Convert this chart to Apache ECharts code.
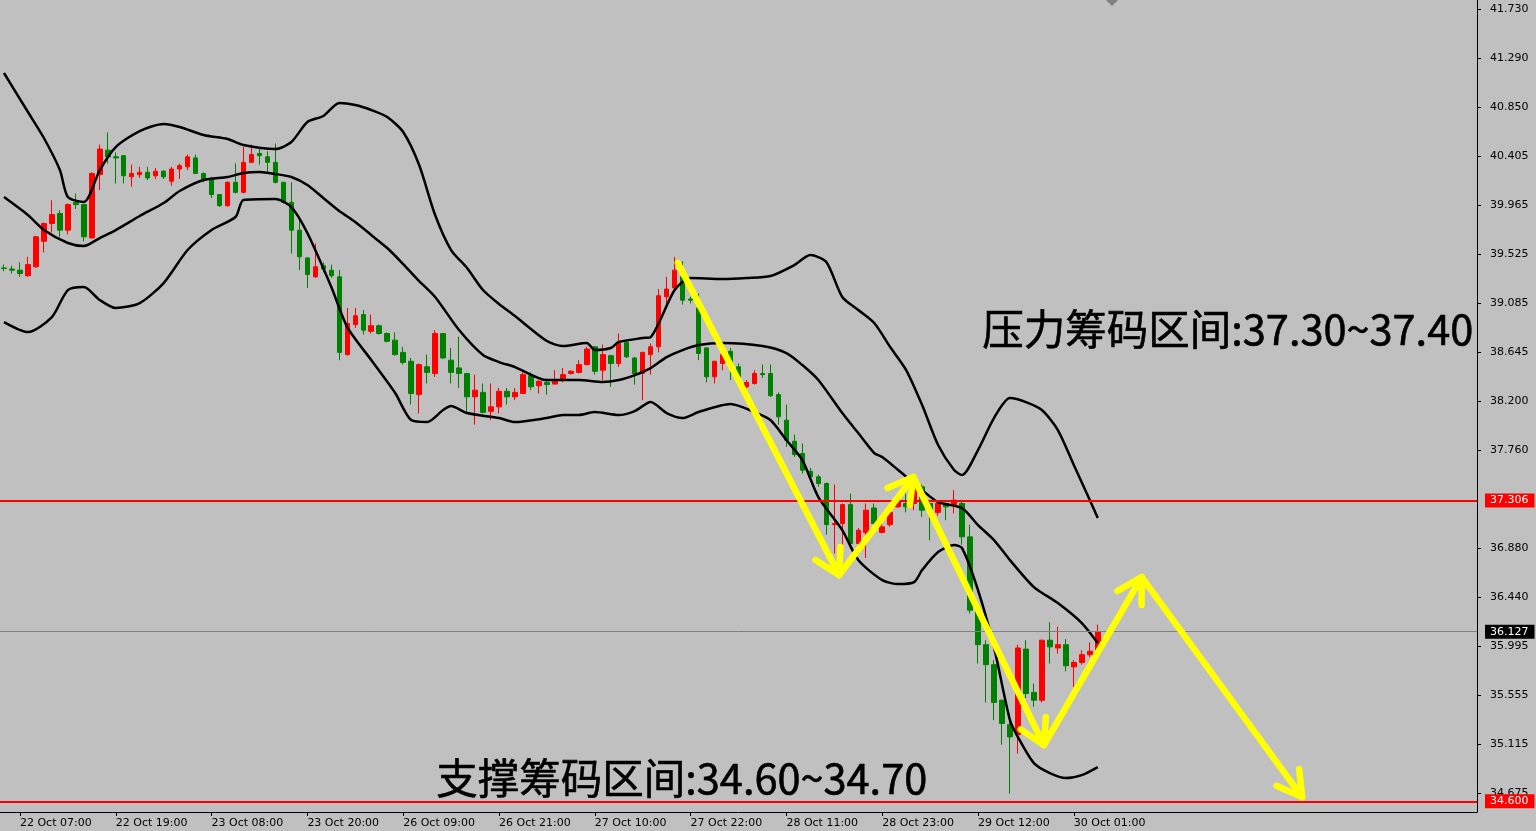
<!DOCTYPE html>
<html>
<head>
<meta charset="utf-8">
<script src="https://cdn.jsdelivr.net/npm/echarts@6/dist/echarts.min.js"></script>
<style>
html,body{margin:0;padding:0;background:#c0c0c0;}
#chart{width:1536px;height:831px;}
</style>
</head>
<body>
<div id="chart"></div>
<script>
// ---- DATA ----
const slotCount = 185; // hourly slots incl. empty future space
const xLabelIndex = [2, 14, 26, 38, 50, 62, 74, 86, 98, 110, 122, 134];
const xLabelText = ['22 Oct 07:00','22 Oct 19:00','23 Oct 08:00','23 Oct 20:00','26 Oct 09:00','26 Oct 21:00',
  '27 Oct 10:00','27 Oct 22:00','28 Oct 11:00','28 Oct 23:00','29 Oct 12:00','30 Oct 01:00'];
const yTicks = [41.730,41.290,40.850,40.405,39.965,39.525,39.085,38.645,38.200,37.760,36.880,36.440,35.995,35.555,35.115,34.675];

// candles: [open, close, low, high]
const candles = [
[39.40,39.395,39.37,39.43],[39.39,39.38,39.35,39.42],[39.38,39.35,39.32,39.45],[39.33,39.43,39.32,39.50],
[39.41,39.68,39.40,39.69],[39.64,39.80,39.54,39.81],[39.80,39.88,39.72,40.01],[39.89,39.74,39.68,39.92],
[39.74,39.97,39.70,39.98],[39.99,39.97,39.93,40.07],[39.97,39.68,39.64,39.975],[39.67,40.25,39.665,40.26],
[40.24,40.47,40.10,40.51],[40.46,40.40,40.34,40.62],[40.40,40.39,40.16,40.44],[40.41,40.23,40.16,40.415],
[40.22,40.25,40.13,40.33],[40.24,40.26,40.21,40.31],[40.26,40.21,40.19,40.31],[40.23,40.27,40.20,40.30],
[40.27,40.22,40.20,40.28],[40.18,40.29,40.14,40.31],[40.29,40.32,40.20,40.34],[40.31,40.40,40.28,40.42],
[40.39,40.25,40.245,40.42],[40.25,40.19,40.17,40.26],[40.20,40.06,40.03,40.22],[40.06,39.96,39.95,40.065],
[39.96,40.17,39.95,40.18],[40.17,40.08,40.07,40.34],[40.08,40.35,40.07,40.49],[40.35,40.42,40.345,40.51],
[40.43,40.41,40.33,40.48],[40.40,40.35,40.26,40.45],[40.35,40.17,40.16,40.52],[40.17,39.99,39.98,40.175],
[39.99,39.74,39.53,40.17],[39.74,39.50,39.38,39.85],[39.49,39.34,39.22,39.495],[39.32,39.41,39.31,39.62],
[39.42,39.39,39.36,39.45],[39.38,39.33,39.31,39.43],[39.32,38.64,38.57,39.38],[38.62,38.90,38.61,39.04],
[38.89,38.97,38.86,39.04],[38.98,38.84,38.80,39.02],[38.83,38.88,38.81,38.98],[38.88,38.81,38.80,38.89],
[38.81,38.74,38.73,38.82],[38.75,38.62,38.61,38.82],[38.64,38.55,38.53,38.69],[38.56,38.27,38.17,38.59],
[38.26,38.53,38.09,38.54],[38.51,38.46,38.36,38.62],[38.45,38.81,38.42,38.84],[38.81,38.59,38.58,38.815],
[38.57,38.46,38.36,38.68],[38.50,38.45,38.32,38.78],[38.45,38.24,38.10,38.455],[38.24,38.30,37.99,38.44],
[38.28,38.10,38.09,38.36],[38.11,38.15,38.03,38.36],[38.15,38.29,38.09,38.32],[38.29,38.24,38.17,38.32],
[38.24,38.28,38.21,38.32],[38.27,38.44,38.265,38.46],[38.43,38.33,38.30,38.46],[38.34,38.38,38.27,38.39],
[38.37,38.35,38.26,38.39],[38.355,38.38,38.35,38.48],[38.39,38.44,38.37,38.50],[38.45,38.47,38.44,38.48],
[38.46,38.53,38.45,38.57],[38.53,38.67,38.525,38.69],[38.69,38.47,38.44,38.695],[38.48,38.62,38.39,38.71],
[38.61,38.54,38.33,38.62],[38.54,38.72,38.51,38.81],[38.73,38.60,38.59,38.75],[38.59,38.45,38.35,38.60],
[38.45,38.64,38.21,38.645],[38.62,38.69,38.44,38.72],[38.69,39.15,38.64,39.21],[39.14,39.21,39.07,39.32],
[39.22,39.38,39.21,39.50],[39.32,39.11,39.07,39.46],[39.12,39.11,39.08,39.14],[39.04,38.63,38.57,39.17],
[38.68,38.42,38.37,38.685],[38.42,38.56,38.36,38.565],[38.54,38.62,38.48,38.63],[38.65,38.55,38.39,38.68],
[38.51,38.42,38.33,38.54],[38.33,38.37,38.32,38.39],[38.36,38.45,38.35,38.48],[38.45,38.44,38.41,38.53],
[38.45,38.25,38.24,38.53],[38.26,38.06,37.99,38.28],[38.03,37.85,37.79,38.17],[37.84,37.72,37.70,37.90],
[37.73,37.58,37.55,37.82],[37.57,37.52,37.51,37.60],[37.52,37.46,37.43,37.54],[37.46,37.09,37.00,37.47],
[37.09,37.10,36.83,37.45],[37.10,37.27,36.86,37.28],[37.27,36.92,36.88,37.37],[36.92,37.04,36.86,37.06],
[37.02,37.22,36.79,37.28],[37.24,37.10,37.07,37.28],[37.02,37.07,37.01,37.10],[37.09,37.20,37.07,37.22],
[37.25,37.31,37.24,37.37],[37.28,37.25,37.20,37.37],[37.28,37.42,37.22,37.47],[37.43,37.22,37.16,37.45],
[37.28,37.22,36.95,37.29],[37.20,37.28,37.17,37.29],[37.28,37.25,37.13,37.29],[37.27,37.31,37.19,37.40],
[37.28,36.98,36.91,37.31],[36.98,36.32,36.29,37.09],[36.32,36.01,35.84,36.325],[36.01,35.83,35.49,36.05],
[35.83,35.49,35.33,35.87],[35.51,35.30,35.11,35.515],[35.29,35.18,34.67,35.39],[35.20,35.98,35.03,36.01],
[35.97,35.57,35.53,36.05],[35.58,35.51,35.45,35.66],[35.51,36.05,35.49,36.055],[36.05,35.99,35.84,36.21],
[35.98,36.01,35.93,36.17],[36.01,35.82,35.77,36.06],[35.81,35.85,35.63,35.87],[35.85,35.92,35.83,35.96],
[35.92,35.95,35.90,36.03],[35.96,36.127,35.94,36.19]
];

// Bollinger bands: [bar index, value]
const upperBand = [[0,41.154],[3,40.803],[5,40.569],[7,40.281],[8,40.038],[10,39.993],[12,40.281],[14,40.488],
[17,40.632],[20,40.695],[22,40.668],[25,40.596],[28,40.560],[30,40.506],[34,40.470],[36,40.533],[38,40.713],
[40,40.767],[42,40.884],[44,40.866],[46,40.821],[48,40.758],[50,40.623],[52,40.326],[54,39.876],[56,39.561],
[58,39.399],[60,39.201],[62,39.075],[64,38.967],[68,38.742],[70,38.697],[73,38.724],[74,38.661],[76,38.679],
[77,38.733],[80,38.769],[81,38.778],[84,39.201],[86,39.309],[90,39.300],[93,39.309],[96,39.327],[99,39.426],
[101,39.516],[103,39.453],[105,39.138],[107,39.021],[109,38.904],[111,38.688],[113,38.481],[115,38.166],
[117,37.806],[119,37.581],[120,37.536],[122,37.761],[124,38.049],[126,38.229],[128,38.193],[130,38.121],
[132,37.941],[134,37.626],[136,37.311],[137,37.149]];
const middleBand = [[0,40.038],[3,39.876],[5,39.741],[8,39.624],[10,39.597],[12,39.669],[14,39.741],[17,39.867],
[20,39.984],[22,40.092],[25,40.191],[28,40.218],[30,40.254],[32,40.263],[34,40.245],[36,40.218],[38,40.146],
[40,40.029],[42,39.912],[44,39.813],[46,39.696],[48,39.579],[50,39.435],[52,39.282],[54,39.138],[57,38.841],
[60,38.616],[62,38.553],[64,38.508],[68,38.391],[72,38.391],[75,38.373],[77,38.391],[79,38.436],[81,38.499],
[83,38.598],[85,38.661],[87,38.706],[90,38.724],[95,38.697],[98,38.634],[100,38.526],[102,38.391],[105,38.094],
[107,37.914],[109,37.734],[110,37.698],[112,37.581],[115,37.401],[117,37.293],[120,37.239],[122,37.086],
[124,36.951],[126,36.771],[129,36.528],[132,36.384],[135,36.204],[137,36.024]];
const lowerBand = [[0,38.913],[3,38.823],[6,38.958],[8,39.201],[10,39.228],[12,39.111],[14,39.039],[17,39.084],
[20,39.264],[23,39.561],[26,39.741],[29,39.858],[30,40.011],[34,40.020],[36,39.948],[38,39.714],[41,39.228],
[43,38.868],[46,38.571],[49,38.274],[51,38.031],[53,38.013],[55,38.121],[56,38.157],[58,38.094],[62,38.049],
[64,38.013],[68,38.049],[70,38.076],[72,38.076],[74,38.103],[77,38.076],[79,38.112],[81,38.193],[83,38.094],
[85,38.049],[87,38.103],[91,38.175],[94,38.103],[96,38.031],[98,37.851],[100,37.671],[102,37.338],[105,37.041],
[107,36.771],[110,36.591],[112,36.555],[114,36.573],[115,36.681],[117,36.843],[119,36.906],[120,36.879],
[122,36.501],[124,35.988],[126,35.331],[127,35.178],[129,34.944],[131,34.854],[133,34.809],[135,34.836],[137,34.908]];

const resistanceLevel = 37.306;
const supportLevel = 34.600;
const lastPrice = 36.127;

// yellow zigzag arrow path: [bar position, price]
const arrowPath = [[84.4,39.444],[104.6,36.636],[113.9,37.518],[130.25,35.106],[142.5,36.618],[162.6,34.638]];

const textResistance = '压力筹码区间:37.30~37.40';
const textSupport = '支撑筹码区间:34.60~34.70';

// ---- CHART ----
const categories = Array.from({length: slotCount}, (_, i) => String(i));
const labelMap = {};
xLabelIndex.forEach((k, i) => { labelMap[k] = xLabelText[i]; });
const arrowSegs = arrowPath.slice(1).map((p, i) => [arrowPath[i][0], arrowPath[i][1], p[0], p[1]]);

const chart = echarts.init(document.getElementById('chart'), null, {renderer: 'canvas'});
const axisFont = {fontFamily: 'DejaVu Sans', fontSize: 11, color: '#000'};

function bandSeries(data) {
  return {type: 'line', data: data, symbol: 'none', smooth: 0.25, silent: true, z: 3,
    lineStyle: {color: '#000', width: 2.5}};
}

function renderArrow(params, api) {
  const p0 = api.coord([api.value(0), api.value(1)]);
  const p1 = api.coord([api.value(2), api.value(3)]);
  const ang = Math.atan2(p1[1] - p0[1], p1[0] - p0[0]);
  const L = 28, a = Math.PI / 6;
  const b1 = [p1[0] - L * Math.cos(ang - a), p1[1] - L * Math.sin(ang - a)];
  const b2 = [p1[0] - L * Math.cos(ang + a), p1[1] - L * Math.sin(ang + a)];
  const st = {stroke: '#ffff00', lineWidth: 6.5, fill: null, lineCap: 'round', lineJoin: 'round'};
  return {type: 'group', children: [
    {type: 'line', shape: {x1: p0[0], y1: p0[1], x2: p1[0], y2: p1[1]}, style: st},
    {type: 'polyline', shape: {points: [b1, p1, b2]}, style: st}
  ]};
}

function priceLabel(bg, value) {
  return {show: true, position: 'end', distance: 8, color: '#fff', backgroundColor: bg,
    fontFamily: 'DejaVu Sans', fontSize: 11, padding: [2, 6, 1, 5],
    formatter: () => value.toFixed(3)};
}

const option = {
  backgroundColor: '#c0c0c0',
  animation: false,
  grid: {left: -3, right: 59, top: 0, bottom: 19, containLabel: false},
  xAxis: [{
    type: 'category', data: categories, boundaryGap: true,
    axisLine: {show: true, onZero: false, lineStyle: {color: '#000', width: 1}},
    axisTick: {show: true, alignWithLabel: true, length: 4, lineStyle: {color: '#000'},
      interval: (i) => labelMap[i] !== undefined},
    axisLabel: Object.assign({}, axisFont, {interval: (i) => labelMap[i] !== undefined,
      formatter: (v, i) => labelMap[i] || '', align: 'left', margin: 6}),
    splitLine: {show: false}
  }, {
    type: 'value', min: -0.5, max: slotCount - 0.5, show: false,
    axisLine: {show: false, onZero: false}
  }],
  yAxis: {
    type: 'value', position: 'right', min: 34.504, max: 41.811, scale: true,
    axisLine: {show: true, onZero: false, lineStyle: {color: '#000', width: 1}},
    axisTick: {show: true, length: 4, inside: false, lineStyle: {color: '#000'}, customValues: yTicks},
    axisLabel: Object.assign({}, axisFont, {customValues: yTicks, margin: 13,
      formatter: (v) => Number(v).toFixed(3)}),
    splitLine: {show: false}
  },
  series: [
    {
      type: 'candlestick', data: candles, barWidth: 5, z: 2, silent: true,
      itemStyle: {color: '#ff0000', color0: '#008000', borderColor: '#ff0000', borderColor0: '#008000', borderWidth: 1},
      markLine: {
        silent: true, symbol: ['none', 'none'], z: 6, precision: 3,
        data: [
          {yAxis: lastPrice, lineStyle: {color: '#808080', width: 1, type: 'solid'}, label: priceLabel('#000', lastPrice)},
          {yAxis: resistanceLevel, lineStyle: {color: '#ff0000', width: 2, type: 'solid'}, label: priceLabel('#ff0000', resistanceLevel)},
          {yAxis: supportLevel, lineStyle: {color: '#ff0000', width: 2, type: 'solid'}, label: priceLabel('#ff0000', supportLevel)}
        ]
      }
    },
    bandSeries(upperBand),
    bandSeries(middleBand),
    bandSeries(lowerBand),
    {
      type: 'custom', xAxisIndex: 1, yAxisIndex: 0, data: arrowSegs, renderItem: renderArrow,
      encode: {x: [0, 2], y: [1, 3]}, z: 10, silent: true, clip: false
    }
  ],
  graphic: [
    {type: 'text', left: 982, top: 308, z: 20, silent: true,
      style: {text: textResistance, font: '41.5px "Noto Sans CJK SC"', fill: '#000', stroke: '#000', lineWidth: 0.6}},
    {type: 'text', left: 436, top: 757, z: 20, silent: true,
      style: {text: textSupport, font: '41.5px "Noto Sans CJK SC"', fill: '#000', stroke: '#000', lineWidth: 0.6}},
    {type: 'polygon', z: 20, silent: true, shape: {points: [[1106, 0], [1118, 0], [1112, 6]]},
      style: {fill: '#808080'}}
  ]
};
chart.setOption(option);
</script>
</body>
</html>
